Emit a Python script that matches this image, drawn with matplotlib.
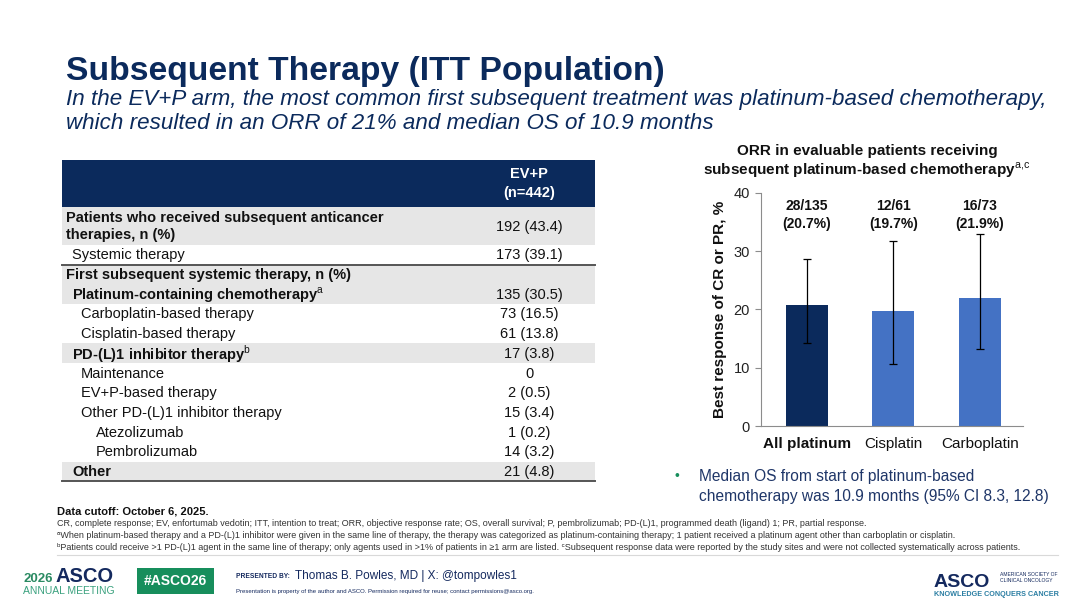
import matplotlib
matplotlib.use('Agg')
import matplotlib.pyplot as plt
from matplotlib.patches import Rectangle

plt.rcParams['font.family'] = ['Liberation Sans', 'DejaVu Sans']
plt.rcParams['mathtext.fontset'] = 'custom'
plt.rcParams['mathtext.rm'] = 'Liberation Sans'
plt.rcParams['mathtext.bf'] = 'Liberation Sans:bold'

NAVY = '#0b2a5c'
BLUE = '#4472c4'
GREY_ROW = '#e6e6e6'
TXT = '#111111'
GREEN = '#178e5c'

# ---- table data ----
row_labels = ['Patients who received subsequent anticancer\ntherapies, n (%)',
              'Systemic therapy',
              'First subsequent systemic therapy, n (%)',
              r'Platinum-containing chemotherapy$^{\mathrm{a}}$',
              'Carboplatin-based therapy',
              'Cisplatin-based therapy',
              r'PD-(L)1 inhibitor therapy$^{\mathrm{b}}$',
              'Maintenance',
              'EV+P-based therapy',
              'Other PD-(L)1 inhibitor therapy',
              'Atezolizumab',
              'Pembrolizumab',
              'Other']
row_values = ['192 (43.4)', '173 (39.1)', '', '135 (30.5)', '73 (16.5)', '61 (13.8)',
              '17 (3.8)', '0', '2 (0.5)', '15 (3.4)', '1 (0.2)', '14 (3.2)', '21 (4.8)']
row_indent = [0, 1, 0, 1, 2, 2, 1, 2, 2, 2, 3, 3, 1]
row_bold = [True, False, True, True, False, False, True, False, False, False, False, False, True]
row_shade = [True, False, True, True, False, False, True, False, False, False, False, False, True]
row_nlines = [2, 1, 1, 1, 1, 1, 1, 1, 1, 1, 1, 1, 1]

# ---- chart data ----
categories = ['All platinum', 'Cisplatin', 'Carboplatin']
responders = [28, 12, 16]
evaluable = [135, 61, 73]
orr_pct = [20.7, 19.7, 21.9]
ci_low = [14.3, 10.6, 13.2]
ci_high = [28.6, 31.8, 32.9]

fig = plt.figure(figsize=(10.8, 6.08), dpi=100)
fig.patch.set_facecolor('white')

# full-figure canvas in pixel coords
bg = fig.add_axes([0, 0, 1, 1])
bg.set_xlim(0, 1080)
bg.set_ylim(608, 0)
bg.axis('off')

# title + subtitle
bg.text(66, 80, 'Subsequent Therapy (ITT Population)', fontsize=24.2, fontweight='bold',
        color=NAVY, va='baseline')
bg.text(66, 105, 'In the EV+P arm, the most common first subsequent treatment was platinum-based chemotherapy,',
        fontsize=16.1, style='italic', color=NAVY, va='baseline')
bg.text(66, 129, 'which resulted in an ORR of 21% and median OS of 10.9 months',
        fontsize=16.1, style='italic', color=NAVY, va='baseline')

# table
tx0, tx1 = 62, 595
val_x = 529
bg.add_patch(Rectangle((tx0, 160), tx1 - tx0, 47, color=NAVY, lw=0))
bg.text(val_x, 183.5, 'EV+P\n(n=442)', ha='center', va='center', color='white',
        fontsize=10.5, fontweight='bold', linespacing=1.5)

indent_x = [66, 72, 81, 96]
y = 207
row_h = 19.7
for lab, val, ind, bold, shade, nl in zip(row_labels, row_values, row_indent,
                                           row_bold, row_shade, row_nlines):
    h = 38 if nl == 2 else row_h
    if shade:
        bg.add_patch(Rectangle((tx0, y), tx1 - tx0, h, color=GREY_ROW, lw=0))
    bg.text(indent_x[ind], y + h / 2 + 0.5, lab, va='center', ha='left', fontsize=10.5,
            fontweight='bold' if bold else 'normal', color=TXT, linespacing=1.35)
    if val:
        bg.text(val_x, y + h / 2 + 0.5, val, va='center', ha='center', fontsize=10.5, color=TXT)
    y += h
    if lab == 'Systemic therapy':
        bg.plot([tx0, tx1], [y, y], color='#555555', lw=1.4)
bg.plot([tx0, tx1], [y, y], color='#555555', lw=1.4)

# chart title
bg.text(867, 151, 'ORR in evaluable patients receiving', ha='center', va='center',
        fontsize=11, fontweight='bold', color=TXT)
bg.text(867, 170, r'subsequent platinum-based chemotherapy$^{\mathrm{a{,}c}}$', ha='center', va='center',
        fontsize=11, fontweight='bold', color=TXT)

# bullet
bg.text(677, 476, '\u2022', ha='center', va='center', fontsize=10, color=GREEN)
bg.text(699, 476, 'Median OS from start of platinum-based', va='center', fontsize=11.2, color='#1f3668')
bg.text(699, 496, 'chemotherapy was 10.9 months (95% CI 8.3, 12.8)', va='center', fontsize=11.2,
        color='#1f3668')

# footnotes
bg.text(57, 512, 'Data cutoff: October 6, 2025.', va='center', fontsize=8, fontweight='bold', color=TXT)
foot = ['CR, complete response; EV, enfortumab vedotin; ITT, intention to treat; ORR, objective response rate; '
        'OS, overall survival; P, pembrolizumab; PD-(L)1, programmed death (ligand) 1; PR, partial response.',
        '\u1d43When platinum-based therapy and a PD-(L)1 inhibitor were given in the same line of therapy, '
        'the therapy was categorized as platinum-containing therapy; 1 patient received a platinum agent other than '
        'carboplatin or cisplatin.',
        '\u1d47Patients could receive >1 PD-(L)1 agent in the same line of therapy; only agents used in >1% of '
        'patients in \u22651 arm are listed. \u1d9cSubsequent response data were reported by the study sites '
        'and were not collected systematically across patients.']
for i, t in enumerate(foot):
    bg.text(57, 524 + i * 11.5, t, va='center', fontsize=6.5, color='#333333')
bg.plot([57, 1058], [555, 555], color='#d9d9d9', lw=0.8)

# footer left logo
bg.text(23, 582, '2026', fontsize=9.5, fontweight='bold', color='#2a8a62', va='baseline')
bg.text(56, 582, 'ASCO', fontsize=14.5, fontweight='bold', color='#14295e', va='baseline')
bg.text(23, 594, 'ANNUAL MEETING', fontsize=7.5, color='#3aa17e', va='baseline')
bg.add_patch(Rectangle((137, 568), 77, 26, color=GREEN, lw=0))
bg.text(175.5, 581, '#ASCO26', ha='center', va='center', fontsize=10, fontweight='bold', color='white')
bg.text(236, 577, 'PRESENTED BY:', fontsize=4.8, fontweight='bold', color='#14295e', va='center')
bg.text(295, 576, 'Thomas B. Powles, MD | X: @tompowles1', fontsize=8.5, color='#14295e', va='center')
bg.text(236, 592, 'Presentation is property of the author and ASCO. Permission required for reuse; '
        'contact permissions@asco.org.', fontsize=4.3, color='#14295e', va='center')

# footer right logo
bg.text(934, 587, 'ASCO', fontsize=14, fontweight='bold', color='#14295e', va='baseline')
bg.text(1000, 574, 'AMERICAN SOCIETY OF', fontsize=3.6, color='#14295e', va='center')
bg.text(1000, 581, 'CLINICAL ONCOLOGY', fontsize=3.6, color='#14295e', va='center')
bg.text(934, 595, 'KNOWLEDGE CONQUERS CANCER', fontsize=5.2, fontweight='bold', color='#2b7ea3', va='center')

# bar chart
ax = fig.add_axes([761 / 1080, (608 - 426) / 608, 262 / 1080, 233 / 608])
xs = list(range(len(categories)))
colors = [NAVY, BLUE, BLUE]
ax.bar(xs, orr_pct, width=0.49, color=colors, zorder=2)
yerr = [[o - l for o, l in zip(orr_pct, ci_low)], [h - o for o, h in zip(orr_pct, ci_high)]]
ax.errorbar(xs, orr_pct, yerr=yerr, fmt='none', ecolor='black', elinewidth=0.9, capsize=3,
            capthick=0.9, zorder=3)
for x, r, n, p in zip(xs, responders, evaluable, orr_pct):
    ax.text(x, 36.2, f'{r}/{n}\n({p}%)', ha='center', va='center', fontsize=10,
            fontweight='bold', color=TXT, linespacing=1.35)
ax.set_xlim(-0.53, 2.5)
ax.set_ylim(0, 40)
ax.set_yticks([0, 10, 20, 30, 40])
ax.set_xticks(xs)
ax.set_xticklabels(categories, fontsize=11, color=TXT)
ax.get_xticklabels()[0].set_fontweight('bold')
ax.tick_params(axis='x', length=0, pad=8)
ax.tick_params(axis='y', length=4, color='#8c8c8c', labelsize=10.5, labelcolor='#222222', pad=4)
for s in ['top', 'right']:
    ax.spines[s].set_visible(False)
for s in ['left', 'bottom']:
    ax.spines[s].set_color('#8c8c8c')
ax.set_ylabel('Best response of CR or PR, %', fontsize=11, fontweight='bold', color=TXT)
ax.yaxis.set_label_coords(-0.13, 0.5)
ax.set_facecolor('none')

fig.savefig('out.png', dpi=100, facecolor='white')
